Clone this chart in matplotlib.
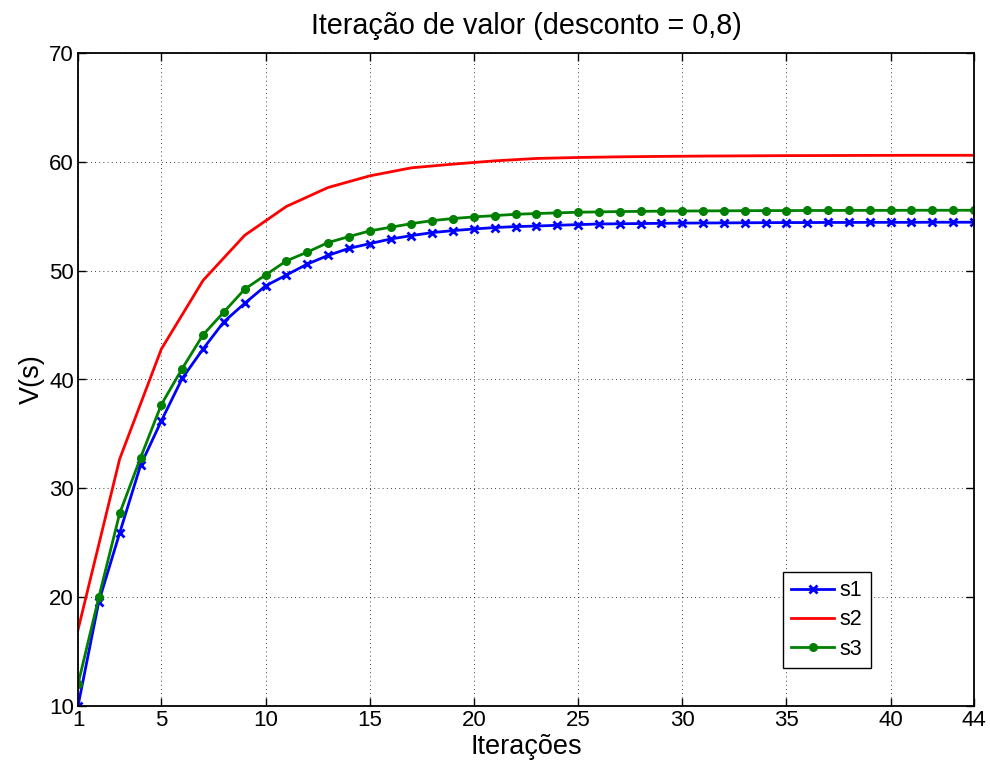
import matplotlib
matplotlib.use('Agg')
import matplotlib.pyplot as plt

plt.rcParams['font.family'] = ['Liberation Sans', 'DejaVu Sans']

# Valores
iter_s1 = list(range(1, 45))
s1 = [10.0, 19.6, 25.9, 32.1, 36.2, 40.1, 42.8, 45.3, 47.0, 48.6,
      49.6, 50.6, 51.4, 52.05, 52.48, 52.91, 53.22, 53.5, 53.68, 53.83,
      53.96, 54.05, 54.1, 54.17, 54.23, 54.29, 54.31, 54.33, 54.35, 54.37,
      54.38, 54.39, 54.40, 54.41, 54.42, 54.42, 54.43, 54.43, 54.44, 54.44,
      54.44, 54.45, 54.45, 54.45]

iter_s2 = list(range(1, 44, 2)) + [44]
s2 = [17.0, 32.7, 42.8, 49.1, 53.25, 55.9, 57.64, 58.71, 59.45, 59.79,
      60.09, 60.31, 60.4, 60.46, 60.5, 60.53, 60.55, 60.57, 60.58, 60.59,
      60.6, 60.6, 60.6]

iter_s3 = list(range(1, 45))
s3 = [12.0, 20.0, 27.7, 32.8, 37.7, 41.0, 44.1, 46.2, 48.3, 49.6,
      50.9, 51.7, 52.58, 53.13, 53.65, 53.99, 54.32, 54.6, 54.79, 54.94,
      55.06, 55.18, 55.25, 55.31, 55.37, 55.4, 55.43, 55.45, 55.47, 55.48,
      55.49, 55.50, 55.51, 55.52, 55.52, 55.53, 55.53, 55.54, 55.54, 55.54,
      55.55, 55.55, 55.55, 55.55]

x_ticks = [1, 5, 10, 15, 20, 25, 30, 35, 40, 44]
y_ticks = [10, 20, 30, 40, 50, 60, 70]

fig = plt.figure(figsize=(9.9, 7.64), dpi=100)
ax = fig.add_axes([78 / 990, 1 - 706 / 764, 896 / 990, 653 / 764])

ax.plot(iter_s1, s1, color=(0, 0, 1), lw=2, marker='x', ms=6, mew=2, label='s1')
ax.plot(iter_s2, s2, color=(1, 0, 0), lw=2, label='s2')
ax.plot(iter_s3, s3, color=(0, 0.5, 0), lw=2, marker='o', ms=5.5, label='s3')

ax.set_xlim(1, 44)
ax.set_ylim(10, 70)
ax.set_xticks(x_ticks)
ax.set_yticks(y_ticks)
ax.tick_params(direction='in', top=True, right=True, labelsize=16,
               length=6, width=1, pad=3)
ax.grid(True, color='black', linestyle=(0, (1, 4)), linewidth=0.6)
for sp in ax.spines.values():
    sp.set_linewidth(1.3)

ax.set_title('Iteração de valor (desconto = 0,8)', fontsize=20.7, pad=14)
ax.set_xlabel('Iterações', fontsize=19.5, labelpad=2)
ax.set_ylabel('V(s)', fontsize=19.5, labelpad=3)

leg = ax.legend(loc='lower right', bbox_to_anchor=(0.885, 0.058),
                borderaxespad=0, fontsize=15.5, fancybox=False,
                edgecolor='black', framealpha=1, handlelength=2.0,
                handletextpad=0.25, labelspacing=0.38, borderpad=0.4)
leg.get_frame().set_linewidth(1.0)

fig.savefig('out.png', dpi=100)
